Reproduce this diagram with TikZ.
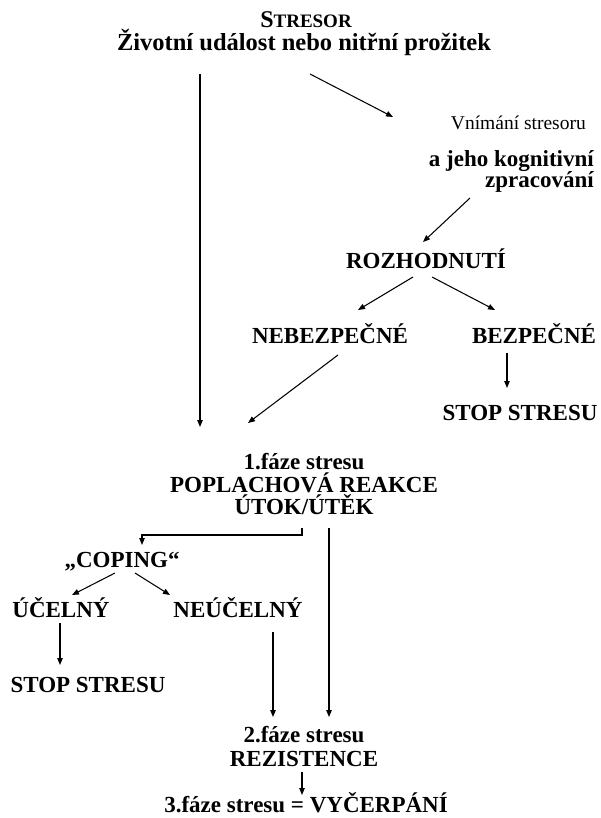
\documentclass[tikz,border=0pt]{standalone}
\usepackage{fontspec}
\setmainfont{Liberation Serif}
\usetikzlibrary{arrows.meta}
\begin{document}
\begin{tikzpicture}[x=1pt,y=-1pt,
  lbl/.style={font=\fontsize{23}{23}\selectfont\bfseries, anchor=base, inner sep=0pt},
  thin lbl/.style={font=\fontsize{19.5}{19.5}\selectfont, anchor=base east, inner sep=0pt},
  arr/.style={line width=1.05pt, -{Triangle[length=7pt,width=5.5pt]}}]
\useasboundingbox[fill=white] (0,0) rectangle (600,818);

\node[lbl] (stresor) at (306,28) {\fontsize{24}{24}\selectfont S\fontsize{19}{19}\selectfont TRESOR};
\node[lbl, font=\fontsize{24.5}{24.5}\selectfont\bfseries] (ziv) at (304,51) {Životní událost nebo nitřní prožitek};
\node[thin lbl] (vni) at (586,130) {Vnímání stresoru};
\node[lbl, anchor=base east] (kog1) at (594,167) {a jeho kognitivní};
\node[lbl, anchor=base east] (kog2) at (594,188) {zpracování};
\node[lbl] (roz) at (426,268) {ROZHODNUTÍ};
\node[lbl] (neb) at (330,343) {NEBEZPEČNÉ};
\node[lbl] (bez) at (534,343) {BEZPEČNÉ};
\node[lbl] (stop1) at (520,420) {STOP STRESU};
\node[lbl] (f1a) at (304,469) {1.fáze stresu};
\node[lbl] (f1b) at (304,492) {POPLACHOVÁ REAKCE};
\node[lbl] (f1c) at (304,514) {ÚTOK/ÚTĚK};
\node[lbl] (cop) at (122,567) {„COPING“};
\node[lbl] (uce) at (61,617) {ÚČELNÝ};
\node[lbl] (neu) at (238,617) {NEÚČELNÝ};
\node[lbl] (stop2) at (88,692) {STOP STRESU};
\node[lbl] (f2a) at (304,742) {2.fáze stresu};
\node[lbl] (f2b) at (304,766) {REZISTENCE};
\node[lbl, anchor=base east] (f3) at (448,812) {3.fáze stresu = VYČERPÁNÍ};

\draw[arr] ([shift={(-104,23)}]ziv.base) -- ([shift={(-104,-42)}]f1a.base);
\draw[arr] ([shift={(6,23)}]ziv.base) -- ([shift={(-193,-13)}]vni.base east);
\draw[arr] ([shift={(-124,10)}]kog2.base east) -- ([shift={(-3,-26)}]roz.base);
\draw[arr] ([shift={(-13,9)}]roz.base) -- ([shift={(28,-33)}]neb.base);
\draw[arr] ([shift={(6,9)}]roz.base) -- ([shift={(-39,-33)}]bez.base);
\draw[arr] ([shift={(-27,10)}]bez.base) -- ([shift={(-13,-32)}]stop1.base);
\draw[arr] ([shift={(8,12)}]neb.base) -- ([shift={(-56,-46)}]f1a.base);
\draw[arr] ([shift={(-2,14)}]f1c.base) -- ++(0,7) -| ([shift={(20,-22)}]cop.base);
\draw[arr] ([shift={(25,14)}]f1c.base) -- ([shift={(25,-25)}]f2a.base);
\draw[arr] ([shift={(-7,6)}]cop.base) -- ([shift={(11,-22)}]uce.base);
\draw[arr] ([shift={(13,6)}]cop.base) -- ([shift={(-68,-22)}]neu.base);
\draw[arr] ([shift={(-1,6)}]uce.base) -- ([shift={(-28,-27)}]stop2.base);
\draw[arr] ([shift={(35,15)}]neu.base) -- ([shift={(-31,-25)}]f2a.base);
\draw[arr] ([shift={(-2,6)}]f2b.base) -- ([shift={(-146,-17)}]f3.base east);
\end{tikzpicture}
\end{document}
